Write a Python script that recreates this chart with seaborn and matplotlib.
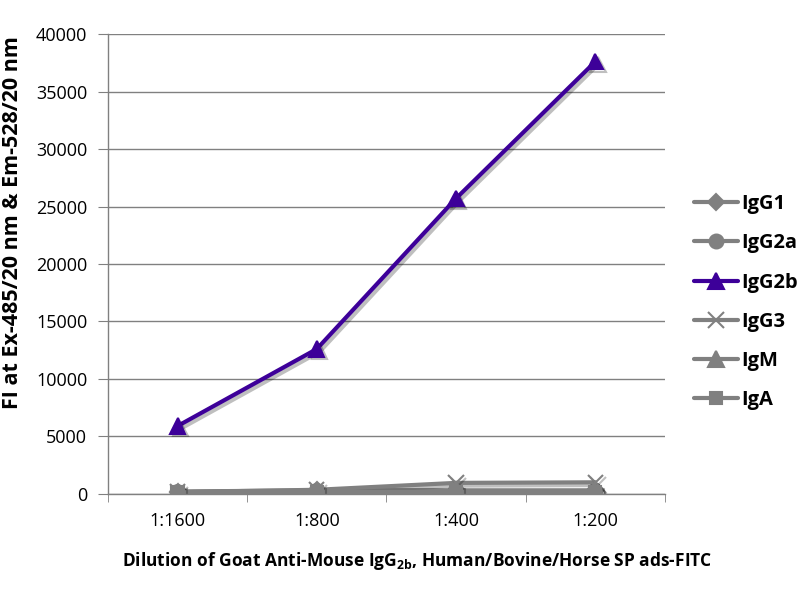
import numpy as np
import pandas as pd
import seaborn as sns
import matplotlib.pyplot as plt
import matplotlib.patheffects as pe

dilutions = ["1:1600", "1:800", "1:400", "1:200"]
isotypes = ["IgG1", "IgG2a", "IgG2b", "IgG3", "IgM", "IgA"]
igg1 = [200, 300, 300, 300]
igg2a = [150, 250, 250, 250]
igg2b = [5900, 12600, 25700, 37600]
igg3 = [150, 350, 950, 1000]
igm = [100, 200, 200, 200]
iga = [100, 150, 150, 150]

values = [igg1, igg2a, igg2b, igg3, igm, iga]
df = pd.DataFrame({
    "dilution": dilutions * len(isotypes),
    "isotype": np.repeat(isotypes, len(dilutions)),
    "fi": np.concatenate(values),
})

sns.set_style("white")
plt.rcParams["font.family"] = ["Open Sans", "DejaVu Sans"]
plt.rcParams["text.color"] = "black"
plt.rcParams["axes.labelcolor"] = "black"
plt.rcParams["xtick.color"] = "black"
plt.rcParams["ytick.color"] = "black"

gray = "#808080"
purple = "#3d0099"
colors = {k: gray for k in isotypes}
colors["IgG2b"] = purple
markers = {"IgG1": "D", "IgG2a": "o", "IgG2b": "^", "IgG3": "x", "IgM": "^", "IgA": "s"}
msizes = {"IgG1": 8, "IgG2a": 10, "IgG2b": 11, "IgG3": 11, "IgM": 11, "IgA": 9}

fig = plt.figure(figsize=(8, 6), dpi=100)
ax = fig.add_axes([0.135, 0.177, 0.696, 0.766])

# draw each isotype on its own so filled and line markers can mix
shadow = [pe.SimpleLineShadow(offset=(2, -2), alpha=0.25), pe.Normal()]
for iso in isotypes:
    sub = df[df["isotype"] == iso]
    sns.lineplot(data=sub, x="dilution", y="fi", color=colors[iso], marker=markers[iso],
                 markersize=msizes[iso], markeredgewidth=1.5, markeredgecolor=colors[iso],
                 linewidth=3, label=iso, ax=ax, sort=False)
for line in ax.get_lines():
    line.set_path_effects(shadow)

ax.set_xlim(-0.5, 3.5)
ax.set_ylim(0, 40000)
ax.set_yticks(range(0, 40001, 5000))
ax.tick_params(axis="y", labelsize=13, length=7, color=gray, left=True, pad=8)
ax.tick_params(axis="x", which="major", labelsize=13, length=0, pad=13)
ax.set_xticks([-0.5, 0.5, 1.5, 2.5, 3.5], minor=True)
ax.tick_params(axis="x", which="minor", length=6, color=gray, bottom=True)
ax.grid(axis="y", color=gray, linewidth=1)
ax.set_axisbelow(True)
for side in ["top", "right"]:
    ax.spines[side].set_visible(False)
for side in ["left", "bottom"]:
    ax.spines[side].set_color(gray)
    ax.spines[side].set_linewidth(1)

ax.set_xlabel("Dilution of Goat Anti-Mouse IgG$_{\\mathregular{2b}}$, Human/Bovine/Horse SP ads-FITC",
              fontsize=12.5, fontweight="bold")
ax.xaxis.set_label_coords(0.555, -0.122)
ax.set_ylabel("FI at Ex-485/20 nm & Em-528/20 nm", fontsize=15.5, fontweight="bold")
ax.yaxis.set_label_coords(-0.152, 0.59)

handles, labels = ax.get_legend_handles_labels()
leg = ax.legend(handles, labels, loc="center left", bbox_to_anchor=(1.052, 0.417),
                frameon=False, labelspacing=0.95, handlelength=2.2, borderaxespad=0,
                borderpad=0, handletextpad=0.15, prop={"weight": "bold", "size": 14.5})
for h in leg.get_lines():
    h.set_path_effects([])

fig.savefig("out.png", dpi=100)
